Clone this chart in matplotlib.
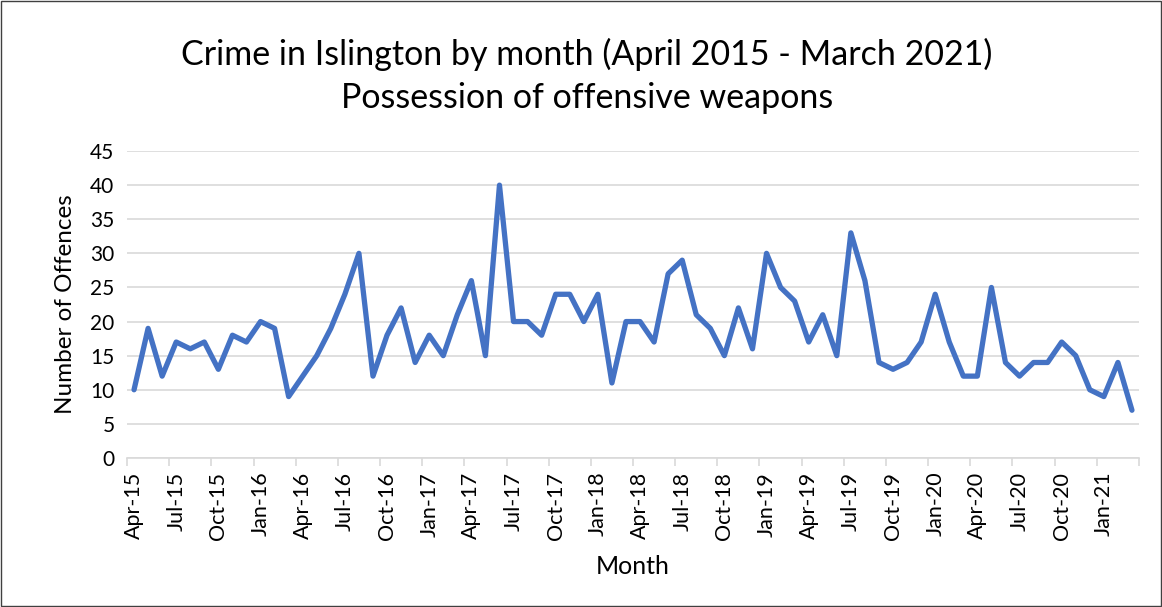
import matplotlib
matplotlib.use("Agg")
import matplotlib.pyplot as plt
from matplotlib.patches import Rectangle


# ---------------------------------------------------------
#  Data: monthly offences, Apr 2015 - Mar 2021
# ---------------------------------------------------------

MONTHS = [
    "Apr-15", "May-15", "Jun-15", "Jul-15", "Aug-15", "Sep-15",
    "Oct-15", "Nov-15", "Dec-15", "Jan-16", "Feb-16", "Mar-16",
    "Apr-16", "May-16", "Jun-16", "Jul-16", "Aug-16", "Sep-16",
    "Oct-16", "Nov-16", "Dec-16", "Jan-17", "Feb-17", "Mar-17",
    "Apr-17", "May-17", "Jun-17", "Jul-17", "Aug-17", "Sep-17",
    "Oct-17", "Nov-17", "Dec-17", "Jan-18", "Feb-18", "Mar-18",
    "Apr-18", "May-18", "Jun-18", "Jul-18", "Aug-18", "Sep-18",
    "Oct-18", "Nov-18", "Dec-18", "Jan-19", "Feb-19", "Mar-19",
    "Apr-19", "May-19", "Jun-19", "Jul-19", "Aug-19", "Sep-19",
    "Oct-19", "Nov-19", "Dec-19", "Jan-20", "Feb-20", "Mar-20",
    "Apr-20", "May-20", "Jun-20", "Jul-20", "Aug-20", "Sep-20",
    "Oct-20", "Nov-20", "Dec-20", "Jan-21", "Feb-21", "Mar-21",
]

OFFENCES = [
    10, 19, 12, 17, 16, 17, 13, 18, 17, 20, 19, 9,
    12, 15, 19, 24, 30, 12, 18, 22, 14, 18, 15, 21,
    26, 15, 40, 20, 20, 18, 24, 24, 20, 24, 11, 20,
    20, 17, 27, 29, 21, 19, 15, 22, 16, 30, 25, 23,
    17, 21, 15, 33, 26, 14, 13, 14, 17, 24, 17, 12,
    12, 25, 14, 12, 14, 14, 17, 15, 10, 9, 14, 7,
]

Y_TICKS = list(range(0, 50, 5))

LINE_COLOUR = "#4472C4"
GRID_COLOUR = "#D9D9D9"
FONT = ["Lato", "DejaVu Sans"]


def main() -> None:
    plt.rcParams["font.family"] = FONT

    fig = plt.figure(figsize=(11.62, 6.07), dpi=100)
    ax = fig.add_axes([0.1093, 0.2455, 0.8709, 0.5057])

    x = list(range(len(MONTHS)))
    ax.plot(x, OFFENCES, color=LINE_COLOUR, linewidth=3.8,
            solid_joinstyle="round", solid_capstyle="round", zorder=3)

    ax.set_xlim(-0.5, len(MONTHS) - 0.5)
    ax.set_ylim(0, 45)

    # labels on every 3rd month, tick marks between categories
    ax.set_xticks(x[::3])
    ax.set_xticklabels(MONTHS[::3], rotation=90, fontsize=15.5)
    ax.set_xticks([i - 0.5 for i in range(0, len(MONTHS) + 1, 3)], minor=True)
    ax.tick_params(axis="x", which="major", length=0, pad=10)
    ax.tick_params(axis="x", which="minor", length=6, color=GRID_COLOUR, width=1.2)

    ax.set_yticks(Y_TICKS)
    ax.tick_params(axis="y", length=0, labelsize=15, pad=9)

    ax.grid(axis="y", color=GRID_COLOUR, linewidth=1.2, zorder=0)
    for side in ("top", "right", "left"):
        ax.spines[side].set_visible(False)
    ax.spines["bottom"].set_color(GRID_COLOUR)
    ax.spines["bottom"].set_linewidth(1.2)

    ax.set_xlabel("Month", fontsize=18, labelpad=11)
    ax.set_ylabel("Number of Offences", fontsize=17.5, labelpad=10)

    fig.text(0.505, 0.91, "Crime in Islington by month (April 2015 - March 2021)",
             ha="center", va="center", fontsize=24.5)
    fig.text(0.505, 0.838, "Possession of offensive weapons",
             ha="center", va="center", fontsize=24.5)

    # thin frame around the whole chart
    fig.patches.append(Rectangle((0.001, 0.002), 0.998, 0.996,
                                 transform=fig.transFigure, fill=False,
                                 edgecolor="#404040", linewidth=1.0))

    fig.savefig("out.png", dpi=100)


if __name__ == "__main__":
    main()
